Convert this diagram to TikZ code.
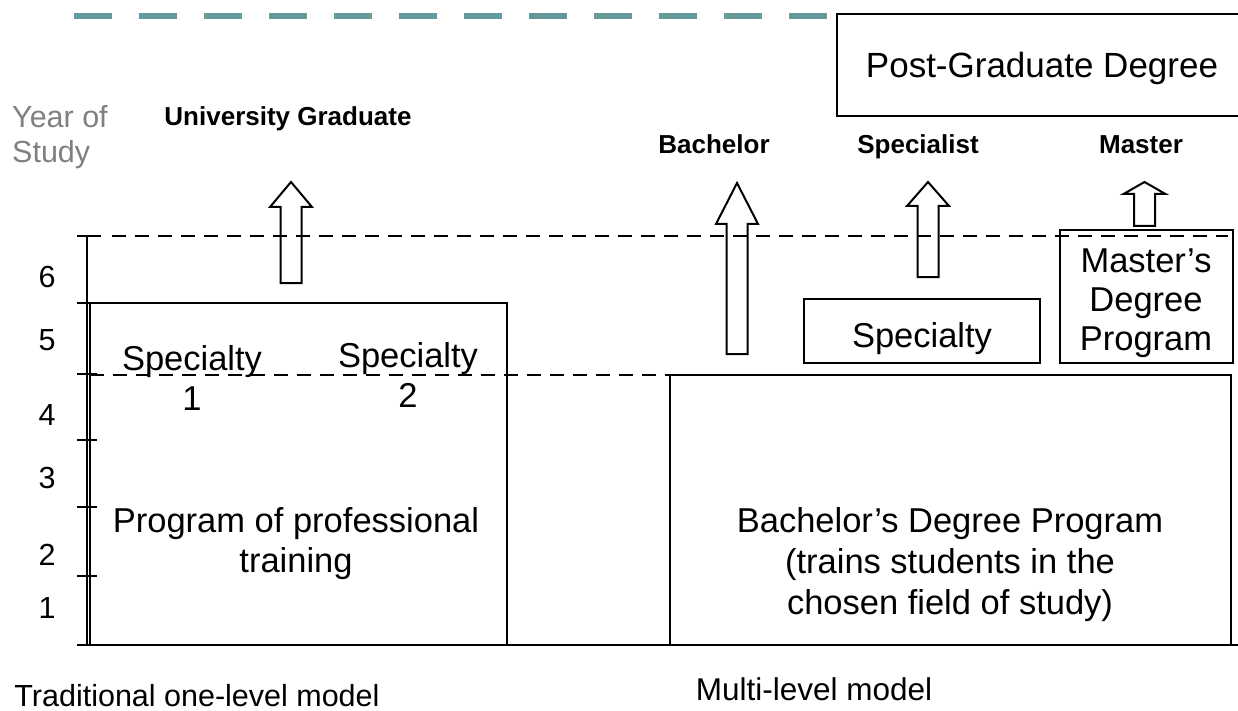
\documentclass[tikz,border=0pt]{standalone}
\usepackage{fontspec}
\setmainfont{Liberation Sans}
\definecolor{verdeazul}{HTML}{669999}

\tikzset{
  caja/.style={draw, line width=2pt},
  rayas/.style={dash pattern=on 14pt off 9pt, line width=2.5pt},
  texto/.style={font=\fontsize{34.5}{40}\selectfont, align=center, inner sep=0pt},
  grado/.style={font=\fontsize{26}{30}\selectfont\bfseries, inner sep=0pt},
  anio/.style={font=\fontsize{30.5}{35}\selectfont, inner sep=0pt},
  flecha/.style={draw, line width=2pt, line join=miter},
}

% flecha gruesa: x, punta, base de la cabeza, fondo
\newcommand{\bloque}[4]{%
  \draw[flecha] (#1,#2) -- (#1+21,#3) -- (#1+10.5,#3) -- (#1+10.5,#4)
    -- (#1-10.5,#4) -- (#1-10.5,#3) -- (#1-21,#3) -- cycle;}

\begin{document}
\begin{tikzpicture}[x=1pt, y=-1pt]
  \useasboundingbox (0,0) rectangle (1238,711);

  % Linea de arriba
  \draw[verdeazul, line width=6pt, dash pattern=on 38pt off 27pt] (74,16) -- (827,16);

  % Escala de anos
  \draw[line width=2pt] (87,236) -- (87,645);
  \draw[line width=2pt] (77,236) -- (101,236);
  \draw[line width=2pt] (77,303) -- (97,303);
  \draw[line width=2pt] (77,374) -- (97,374);
  \draw[line width=2pt] (77,440) -- (97,440);
  \draw[line width=2pt] (77,507) -- (97,507);
  \draw[line width=2pt] (77,576) -- (97,576);
  \draw[line width=2.5pt] (77,645) -- (1238,645);

  \node[anio, text=gray, anchor=base west, align=left] (anio) at (12,163) {Year of\\Study};
  \node[anio, anchor=base] (n6) at (47,287) {6};
  \node[anio, anchor=base] (n5) at (47,350) {5};
  \node[anio, anchor=base] (n4) at (47,425) {4};
  \node[anio, anchor=base] (n3) at (47,488) {3};
  \node[anio, anchor=base] (n2) at (47,565) {2};
  \node[anio, anchor=base] (n1) at (47,618) {1};

  % Cajas
  \draw[caja] (90,303) rectangle (507,645);
  \draw[caja] (670,375) rectangle (1231,645);
  \draw[caja] (804,299) rectangle (1040,363);
  \draw[caja] (1060,230) rectangle (1233,363);
  \draw[caja] (837,14) rectangle (1242,116);

  % Lineas punteadas
  \draw[rayas] (112,236) -- (1228,236);
  \draw[rayas] (90,375) -- (1231,375);

  % Flechas
  \bloque{291}{182}{207}{283}
  \bloque{737}{183}{224}{354}
  \bloque{928}{182}{206}{277}
  \bloque{1144.5}{182}{194}{226}

  % Titulos
  \node[grado, anchor=base] (univ) at (288,126) {University Graduate};
  \node[grado, anchor=base] (bach) at (714,154) {Bachelor};
  \node[grado, anchor=base] (spec) at (918,154) {Specialist};
  \node[grado, anchor=base] (mast) at (1141,154) {Master};

  \node[texto, font=\fontsize{35}{40}\selectfont, anchor=base] (posg) at (1042,78) {Post-Graduate Degree};

  % Textos de las cajas
  \node[texto, anchor=base] (esp1) at (192,410) {Specialty\\1};
  \node[texto, anchor=base] (esp2) at (408,407) {Specialty\\2};
  \node[texto, anchor=base] (prog) at (296,572) {Program of professional\\training};
  \node[texto, anchor=base, font=\fontsize{34.5}{41}\selectfont] (bprog) at (950,614)
    {Bachelor’s Degree Program\\(trains students in the\\chosen field of study)};
  \node[texto, anchor=base] (esp) at (922,347) {Specialty};
  \node[texto, anchor=base, font=\fontsize{34.5}{39}\selectfont] (mprog) at (1146,350)
    {Master’s\\Degree\\Program};

  % Modelos
  \node[anio, anchor=base] (trad) at (197,706) {Traditional one-level model};
  \node[anio, anchor=base, font=\fontsize{31.5}{35}\selectfont] (multi) at (814,700) {Multi-level model};
\end{tikzpicture}
\end{document}
